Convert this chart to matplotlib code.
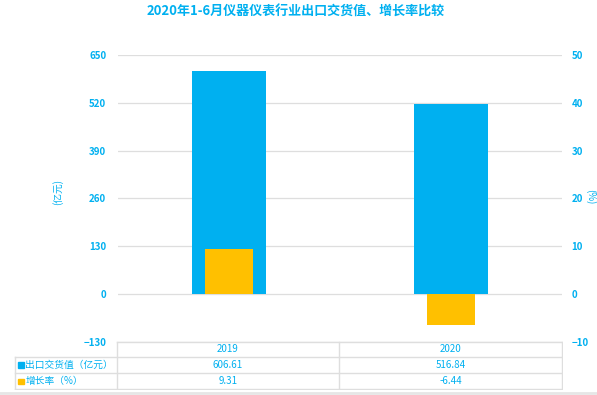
import matplotlib

matplotlib.use("Agg")
import matplotlib.pyplot as plt
from matplotlib.patches import Rectangle

plt.rcParams["font.family"] = ["Noto Sans CJK SC", "DejaVu Sans"]

years = ["2019", "2020"]
export_values = [606.61, 516.84]
growth_rates = [9.31, -6.44]
left_ticks = [-130, 0, 130, 260, 390, 520, 650]
right_ticks = [-10, 0, 10, 20, 30, 40, 50]
series_names = ["出口交货值（亿元）", "增长率（%）"]

BLUE = "#00B0F0"
ORANGE = "#FFC000"
GRID = "#DEDEDE"
W, H = 597, 395
FS = 7


def fig_rect(x0, y0, x1, y1):
    """像素坐标（左上原点）转 figure 坐标。"""
    return [x0 / W, 1 - y1 / H, (x1 - x0) / W, (y1 - y0) / H]


figure = plt.figure(figsize=(W / 100, H / 100), dpi=100)

axis = figure.add_axes(fig_rect(118, 55, 562, 341.5))
positions = list(range(len(years)))
axis.bar(positions, export_values, width=0.335, color=BLUE, zorder=2)
axis.set_xlim(-0.5, len(years) - 0.5)
axis.set_ylim(left_ticks[0], left_ticks[-1])
axis.set_yticks(left_ticks)
axis.set_xticks([])
axis.grid(axis="y", color=GRID, linewidth=0.9)
axis.set_axisbelow(True)
axis.tick_params(axis="y", length=0, pad=8.5, labelsize=FS, labelcolor=BLUE)
for label in axis.get_yticklabels():
    label.set_fontweight("bold")
for spine in axis.spines.values():
    spine.set_visible(False)

twin = axis.twinx()
twin.bar(positions, growth_rates, width=0.22, color=ORANGE, zorder=3)
twin.set_ylim(right_ticks[0], right_ticks[-1])
twin.set_yticks(right_ticks)
twin.tick_params(axis="y", length=0, pad=7, labelsize=FS, labelcolor=BLUE)
for label in twin.get_yticklabels():
    label.set_fontweight("bold")
for spine in twin.spines.values():
    spine.set_visible(False)

figure.text(58 / W, 1 - 192 / H, "(亿元)", rotation=90, color=BLUE,
            fontsize=FS, fontweight="medium", ha="center", va="center")
figure.text(591 / W, 1 - 197 / H, "(%)", rotation=270, color=BLUE,
            fontsize=FS, fontweight="medium", ha="center", va="center")

figure.text(296 / W, 1 - 12 / H, "2020年1-6月仪器仪表行业出口交货值、增长率比较",
            color=BLUE, fontsize=9.4, fontweight="bold", ha="center", va="center")

# 下方数据表
table = figure.add_axes(fig_rect(14, 341, 563, 390))
table.set_xlim(14, 563)
table.set_ylim(390, 341)
table.axis("off")
row_lines = [341.7, 356.7, 373.3, 389.3]
col_lines = [117, 339, 562]
table.plot([117, 562], [row_lines[0]] * 2, color=GRID, lw=1)
for y in row_lines[1:]:
    table.plot([15, 562], [y, y], color=GRID, lw=1)
table.plot([15, 15], [row_lines[1], row_lines[-1]], color=GRID, lw=1)
for x in col_lines:
    table.plot([x, x], [row_lines[0], row_lines[-1]], color=GRID, lw=1)

centers = [(col_lines[i] + col_lines[i + 1]) / 2 for i in range(len(years))]
row_mid = [(row_lines[i] + row_lines[i + 1]) / 2 for i in range(3)]
for center, year, value, rate in zip(centers, years, export_values, growth_rates):
    for mid, text in zip(row_mid, [year, f"{value:.2f}", f"{rate:.2f}"]):
        table.text(center, mid, text, color=BLUE, fontsize=FS,
                   fontweight="medium", ha="center", va="center")

for mid, name, color in zip(row_mid[1:], series_names, [BLUE, ORANGE]):
    table.add_patch(Rectangle((18, mid - 2.8), 5.5, 5.5, color=color))
    table.text(25.5, mid, name, color=BLUE, fontsize=FS, fontweight="medium",
               ha="left", va="center")

figure.add_artist(plt.Line2D([0, 1], [1 - 393 / H] * 2, color="#E6E6E6", lw=2,
                             transform=figure.transFigure))

figure.savefig("out.png", dpi=100)
plt.close(figure)
